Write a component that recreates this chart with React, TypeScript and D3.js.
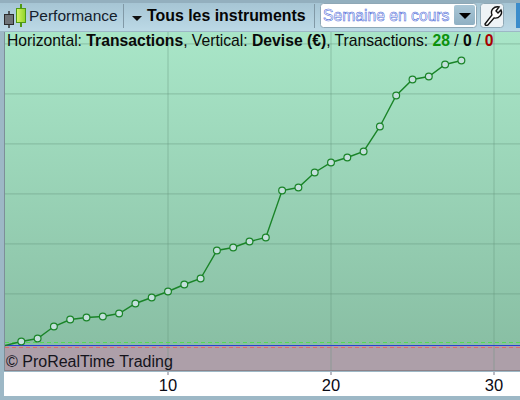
// @ts-nocheck
import React from "react";
import * as d3 from "d3";

// cumulated gain per trade, in euros
const trades = [0, 1, 2, 3, 4, 5, 6, 7, 8, 9, 10, 11, 12, 13, 14, 15, 16, 17, 18, 19, 20, 21, 22, 23, 24, 25, 26, 27, 28];
const equity = [0, 8, 14, 38, 52, 56, 58, 64, 84, 96, 108, 122, 134, 190, 196, 208, 216, 310, 316, 346, 366, 376, 388, 438, 500, 532, 538, 562, 570];
const yGrid = [102, 202, 302, 402, 502, 602];
const xTicks = [10, 20, 30];

const font = "'Liberation Sans', Arial, sans-serif";

export default function App() {
  const x = d3.scaleLinear().domain([0, 30]).range([5, 494]);
  const y = d3.scaleLinear().domain([0, 600]).range([345.5, 45.5]);
  const line = d3
    .line()
    .x((d, i) => x(trades[i]))
    .y((d) => y(d));

  return (
    <svg
      width={520}
      height={400}
      style={{ position: "absolute", left: 0, top: 0, fontFamily: font }}
    >
      <defs>
        <linearGradient id="bar" x1="0" y1="0" x2="0" y2="1">
          <stop offset="0" stopColor="#a6c5d4" />
          <stop offset="1" stopColor="#bcd9e6" />
        </linearGradient>
        <linearGradient id="up" x1="0" y1="0" x2="0" y2="1">
          <stop offset="0" stopColor="#a9e6c8" />
          <stop offset="1" stopColor="#89bfa4" />
        </linearGradient>
        <linearGradient id="btn" x1="0" y1="0" x2="0" y2="1">
          <stop offset="0" stopColor="#a9c6d6" />
          <stop offset="1" stopColor="#8fb0c3" />
        </linearGradient>
        <linearGradient id="candle" x1="0" y1="0" x2="1" y2="0">
          <stop offset="0" stopColor="#d8f56a" />
          <stop offset="1" stopColor="#8fd428" />
        </linearGradient>
        <clipPath id="plot">
          <rect x={5} y={32} width={515} height={338} />
        </clipPath>
      </defs>

      {/* window frame and toolbar */}
      <rect width={520} height={400} fill="#9db8c6" />
      <rect y={3} width={520} height={28} fill="url(#bar)" />
      <rect width={520} height={3} fill="#93afbe" />

      {/* candle icon */}
      <line x1={9} x2={9} y1={11} y2={28} stroke="#333" strokeWidth={1.5} />
      <rect x={4.5} y={14.5} width={9} height={10} fill="#6f7478" stroke="#2c2c2c" />
      <line x1={21} x2={21} y1={4} y2={27} stroke="#4f9a14" strokeWidth={2} />
      <rect x={16.5} y={8.5} width={9} height={14} fill="url(#candle)" stroke="#4f9a14" />

      <text x={29} y={21} fontSize={15.5} fill="#14202c">Performance</text>
      <line x1={123.5} x2={123.5} y1={4} y2={28} stroke="#8199a6" />
      <path d={d3.line()([[132, 16], [142, 16], [137, 21]]) + "Z"} fill="#111" />
      <text x={147} y={21} fontSize={15.9} fontWeight="bold" fill="#050505">Tous les instruments</text>
      <line x1={314.5} x2={314.5} y1={4} y2={28} stroke="#8199a6" />

      {/* period selector */}
      <rect x={320.5} y={3.5} width={156} height={24} rx={3} fill="#fff" stroke="#8fa8b6" />
      <text x={323} y={21} fontSize={15.7} fill="#fff" stroke="#4a68d8" strokeWidth={0.55}>Semaine en cours</text>
      <rect x={454} y={5} width={21} height={20} rx={2} fill="url(#btn)" />
      <path d={d3.line()([[459, 13], [471, 13], [465, 19]]) + "Z"} fill="#000" />

      {/* settings button */}
      <rect x={480.5} y={3.5} width={23} height={24} rx={3} fill="#eef3f6" stroke="#8fa8b6" />
      <path
        d="M485 24 L492 15 C490 10 494 6 499 7 L496 11 L498 13 L501 10 C503 14 499 19 494 18 L488 25 Q485 26 485 24 Z"
        fill="#fff"
        stroke="#111"
        strokeWidth={1.4}
      />
      <rect x={516} y={3} width={4} height={25} fill="#3b8ccb" />

      {/* plot area */}
      <rect x={5} y={32} width={515} height={313.5} fill="url(#up)" />
      <rect x={5} y={345.5} width={515} height={25} fill="#ad9fa9" />
      <line x1={5} x2={520} y1={370.5} y2={370.5} stroke="#8d8188" />
      <rect x={4} y={32} width={1} height={339} fill="#7d8f98" />

      <g clipPath="url(#plot)">
        {yGrid.map((v) => (
          <line key={v} x1={5} x2={520} y1={y(v) - 0.6} y2={y(v) - 0.6} stroke="#5f8f78" strokeOpacity={0.42} />
        ))}
        {xTicks.map((v) => (
          <line key={v} x1={x(v)} x2={x(v)} y1={32} y2={371} stroke="#5f8f78" strokeOpacity={0.42} />
        ))}
        <line x1={5} x2={520} y1={342.5} y2={342.5} stroke="#55d855" strokeDasharray="4 3" />
        <line x1={5} x2={520} y1={347.5} y2={347.5} stroke="#dc6a70" strokeDasharray="4 3" />
        <line x1={5} x2={520} y1={y(0)} y2={y(0)} stroke="#2a3fd0" />

        <path d={line(equity)} fill="none" stroke="#1a8428" strokeWidth={1.4} />
        {equity.slice(1).map((v, i) => (
          <circle
            key={i}
            cx={x(trades[i + 1])}
            cy={y(v)}
            r={3.4}
            fill="#c4e0dc"
            stroke="#1a8428"
            strokeWidth={1.2}
          />
        ))}
      </g>

      {/* header */}
      <text x={7} y={46} fontSize={15.7} fill="#0a0a0a">
        Horizontal: <tspan fontWeight="bold">Transactions</tspan>, Vertical:{" "}
        <tspan fontWeight="bold">Devise (€)</tspan>, Transactions:{" "}
        <tspan fontWeight="bold" fill="#0c920c">28</tspan> /{" "}
        <tspan fontWeight="bold">0</tspan> /{" "}
        <tspan fontWeight="bold" fill="#a80000">0</tspan>
      </text>
      <text x={6} y={367} fontSize={16} fill="#14141c">© ProRealTime Trading</text>

      {/* x axis */}
      <rect x={4} y={372} width={516} height={24} fill="#fff" />
      {xTicks.map((v) => (
        <g key={v} transform={`translate(${x(v)},0)`}>
          <line y1={372} y2={375} stroke="#778" />
          <text y={391} textAnchor="middle" fontSize={16.5} fill="#0a0a14">{v}</text>
        </g>
      ))}
    </svg>
  );
}
